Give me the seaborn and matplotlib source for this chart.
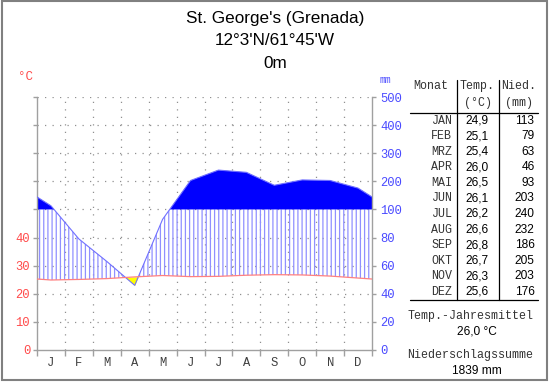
import numpy as np
import pandas as pd
import seaborn as sns
import matplotlib.pyplot as plt
from matplotlib.patches import Rectangle
from matplotlib.lines import Line2D

# Klimadaten St. George's (Grenada)
months = ['JAN', 'FEB', 'MRZ', 'APR', 'MAI', 'JUN', 'JUL', 'AUG', 'SEP', 'OKT', 'NOV', 'DEZ']
month_letters = ['J', 'F', 'M', 'A', 'M', 'J', 'J', 'A', 'S', 'O', 'N', 'D']
temp = [24.9, 25.1, 25.4, 26.0, 26.5, 26.1, 26.2, 26.6, 26.8, 26.7, 26.3, 25.6]
prec = [113, 79, 63, 46, 93, 203, 240, 232, 186, 205, 203, 176]
temp_ticks = [0, 10, 20, 30, 40]
prec_ticks = [0, 20, 40, 60, 80, 100, 200, 300, 400, 500]
title_lines = ["St. George's (Grenada)", "12°3'N/61°45'W", "0m"]
temp_mean = '26,0 °C'
prec_sum = '1839 mm'

RED = '#ff4a4a'
BLUE = '#4a4aff'
GREY = '#a0a0a0'
MONO = 'Liberation Mono'
SANS = 'Liberation Sans'


def scale_prec(p):
    # 0-100 mm linear, darueber 1/5 Massstab
    p = np.asarray(p, dtype=float)
    return np.where(p <= 100, p, 100 + (p - 100) / 5.0)


def wrap(vals):
    # Werte in Monatsmitte, Raender = Mittel Dez/Jan
    vals = list(vals)
    edge = (vals[0] + vals[-1]) / 2.0
    return np.array([edge] + vals + [edge])


x_ext = np.concatenate([[0], np.arange(12) + 0.5, [12]])
t_ext = wrap(np.array(temp) * 2)
p_ext = wrap(scale_prec(prec))

xd = np.linspace(0, 12, 2401)
td = np.interp(xd, x_ext, t_ext)
pd_ = np.interp(xd, x_ext, p_ext)

sns.set_theme(style='white')
plt.rcParams['font.family'] = [SANS, 'DejaVu Sans']
plt.rcParams['hatch.linewidth'] = 0.9

fig = plt.figure(figsize=(5.5, 3.84), dpi=100)
fig.patch.set_facecolor('white')


def fx(x):
    return x / 550.0


def fy(y):
    return 1 - y / 384.0


ax = fig.add_axes([fx(37), fy(350), fx(335), 253 / 384.0])
ax.set_xlim(0, 12)
ax.set_ylim(0, 180)

# Grid
for v in range(1, 12):
    ax.axvline(v, color='#909090', lw=0.9, ls=(0, (1, 5)), zorder=0)
for h in range(20, 181, 20):
    ax.axhline(h, color='#909090', lw=0.9, ls=(0, (1, 5)), zorder=0)

# humide Zeit (Schraffur)
ax.fill_between(xd, td, np.minimum(pd_, 100), where=pd_ > td, interpolate=True,
                facecolor='none', edgecolor='#9090ff', hatch='||||', linewidth=0, zorder=1)
# perhumide Zeit
ax.fill_between(xd, 100, pd_, where=pd_ > 100, interpolate=True,
                color='#0000ff', linewidth=0, zorder=2)
# aride Zeit
ax.fill_between(xd, pd_, td, where=td > pd_, interpolate=True,
                color='#ffff00', linewidth=0, zorder=2)

df = pd.DataFrame({'x': x_ext, 'temp': t_ext, 'prec': p_ext})
sns.lineplot(data=df, x='x', y='prec', ax=ax, color='#7070ff', lw=0.8, zorder=3)
sns.lineplot(data=df, x='x', y='temp', ax=ax, color='#ff8080', lw=0.9, zorder=4)
ax.set_xlabel('')
ax.set_ylabel('')

# Achsen
ax.spines['top'].set_visible(False)
for s in ['left', 'right', 'bottom']:
    ax.spines[s].set_visible(True)
    ax.spines[s].set_color(GREY)
    ax.spines[s].set_linewidth(1.0)

ax.set_xticks(range(13))
ax.set_xticklabels([])
ax.set_xticks(np.arange(12) + 0.5, minor=True)
ax.set_xticklabels(month_letters, minor=True, family=MONO, fontsize=8.7, color='#404040')
ax.tick_params(axis='x', which='major', direction='out', length=4, color=GREY, width=1, bottom=True)
ax.tick_params(axis='x', which='minor', length=0, pad=5)

ax.set_yticks(range(0, 181, 20))
ax.set_yticklabels([str(t) for t in temp_ticks] + [''] * 5, family=MONO, fontsize=8.7, color=RED)
ax.tick_params(axis='y', direction='out', length=3, color=GREY, width=1, left=True, pad=2)

ax2 = ax.twinx()
ax2.set_ylim(0, 180)
ax2.set_yticks(scale_prec(prec_ticks))
ax2.set_yticklabels([str(p) for p in prec_ticks], family=MONO, fontsize=8.7, color=BLUE)
ax2.tick_params(axis='y', direction='out', length=3, color=GREY, width=1, right=True, pad=3)
for s in ax2.spines.values():
    s.set_visible(False)
ax2.grid(False)

fig.text(fx(25), fy(77), '°C', color=RED, family=MONO, fontsize=9, ha='center', va='center')
fig.text(fx(385), fy(80), 'mm', color=BLUE, family=MONO, fontsize=7, ha='center', va='center')

# Titel
for i, line in enumerate(title_lines):
    fig.text(fx(275), fy(18 + i * 22.5), line, fontsize=12.3, ha='center', va='center', color='black')

# Tabelle
TXT = '#333333'
fig.text(fx(430.5), fy(86), 'Monat', family=MONO, fontsize=8.4, ha='center', va='center', color=TXT)
fig.text(fx(477.5), fy(86), 'Temp.', family=MONO, fontsize=8.4, ha='center', va='center', color=TXT)
fig.text(fx(478), fy(103), '(°C)', family=MONO, fontsize=8.4, ha='center', va='center', color=TXT)
fig.text(fx(519), fy(86), 'Nied.', family=MONO, fontsize=8.4, ha='center', va='center', color=TXT)
fig.text(fx(519), fy(103), '(mm)', family=MONO, fontsize=8.4, ha='center', va='center', color=TXT)
for i in range(12):
    yy = fy(120.7 + i * 15.55)
    fig.text(fx(452), yy, months[i], family=MONO, fontsize=8.4, ha='right', va='center', color=TXT)
    fig.text(fx(488.5), yy, f'{temp[i]:.1f}'.replace('.', ','), fontsize=8.6, ha='right', va='center', color='black')
    fig.text(fx(534.5), yy, str(prec[i]), fontsize=8.6, ha='right', va='center', color='black')

fig.add_artist(Line2D([fx(456.7), fx(456.7)], [fy(80), fy(300)], color='black', lw=0.9))
fig.add_artist(Line2D([fx(499.3), fx(499.3)], [fy(80), fy(300)], color='black', lw=0.9))
fig.add_artist(Line2D([fx(410), fx(538)], [fy(112.7), fy(112.7)], color='black', lw=0.9))
fig.add_artist(Line2D([fx(410), fx(538)], [fy(300), fy(300)], color='black', lw=0.9))

fig.text(fx(470.5), fy(315.7), 'Temp.-Jahresmittel', family=MONO, fontsize=8.4, ha='center', va='center', color=TXT)
fig.text(fx(477), fy(331.7), temp_mean, fontsize=8.6, ha='center', va='center', color='black')
fig.text(fx(470.5), fy(355), 'Niederschlagssumme', family=MONO, fontsize=8.4, ha='center', va='center', color=TXT)
fig.text(fx(477), fy(371), prec_sum, fontsize=8.6, ha='center', va='center', color='black')

# Rahmen
fig.add_artist(Rectangle((fx(2), fy(380)), fx(545), 379 / 384.0, transform=fig.transFigure,
                         fill=False, edgecolor='#808080', lw=1.5))

fig.savefig('out.png', dpi=100)
